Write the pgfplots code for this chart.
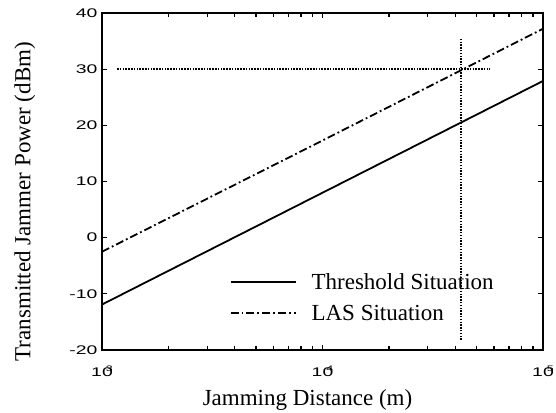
\documentclass[border=0pt]{standalone}
\usepackage{fontspec}
\setmainfont{Liberation Serif}
\newfontfamily\arial{Liberation Sans}
\usepackage{graphicx}
\usepackage{pgfplots}
\pgfplotsset{compat=1.18}

% wide sans tick numbers, as in the original figure
\newcommand{\tk}[1]{{\fontsize{12.5}{13}\arial\scalebox{1.55}[1]{#1}}}
\newcommand{\xt}[1]{\tk{10\llap{\raisebox{0.42em}{\fontsize{8}{8}\selectfont #1}}}}
\newcommand{\lbl}{\fontsize{23}{26}\selectfont}

\begin{document}
\begin{tikzpicture}
\useasboundingbox (-102pt,-62pt) rectangle (454pt,350pt);
\begin{axis}[
  at={(0,0)}, anchor=south west,
  scale only axis,
  width=441pt, height=337pt,
  xmode=log,
  xmin=1000, xmax=100000,
  ymin=-20, ymax=40,
  xtick={1000,10000,100000},
  xticklabels={\xt{3},\xt{4},\xt{5}},
  minor xtick={2000,3000,4000,5000,6000,7000,8000,9000,20000,30000,40000,50000,60000,70000,80000,90000},
  ytick={-20,-10,0,10,20,30,40},
  yticklabels={\tk{-20},\tk{-10},\tk{0},\tk{10},\tk{20},\tk{30},\tk{40}},
  xticklabel style={yshift=-11pt},
  tick align=inside,
  major tick length=5pt, minor tick length=4pt,
  line width=2.6pt,
  every tick/.style={black, line width=1.3pt},
  xlabel={Jamming Distance (m)},
  ylabel={Transmitted Jammer Power (dBm)},
  label style={font=\lbl},
  xlabel style={at={(axis description cs:0.466,-0.148)}, anchor=center},
  ylabel style={at={(axis description cs:-0.175,0.44)}, anchor=center},
  legend style={draw=none, fill=none, at={(axis description cs:0.28,0.243)},
    anchor=north west, font=\lbl, column sep=13pt, row sep=10pt,
    nodes={font=\lbl}},
  legend cell align=left,
  legend image code/.code={\draw[#1] (0pt,0pt) -- (65pt,0pt);},
]
\addplot[black, line width=1.8pt] coordinates {(1000,-11.9) (100000,27.9)};
\addlegendentry{\lbl Threshold Situation}
\addplot[black, line width=1.8pt, dash pattern=on 8pt off 3pt on 1.8pt off 3pt]
  coordinates {(1000,-2.5) (10000,17.3) (100000,37.2)};
\addlegendentry{\lbl LAS Situation}
\addplot[black, line width=1.5pt, dash pattern=on 1.5pt off 1.3pt, forget plot]
  coordinates {(1170,30) (57500,30)};
\addplot[black, line width=1.5pt, dash pattern=on 1.5pt off 1.3pt, forget plot]
  coordinates {(42500,-18.2) (42500,35.5)};
\end{axis}
\end{tikzpicture}
\end{document}
